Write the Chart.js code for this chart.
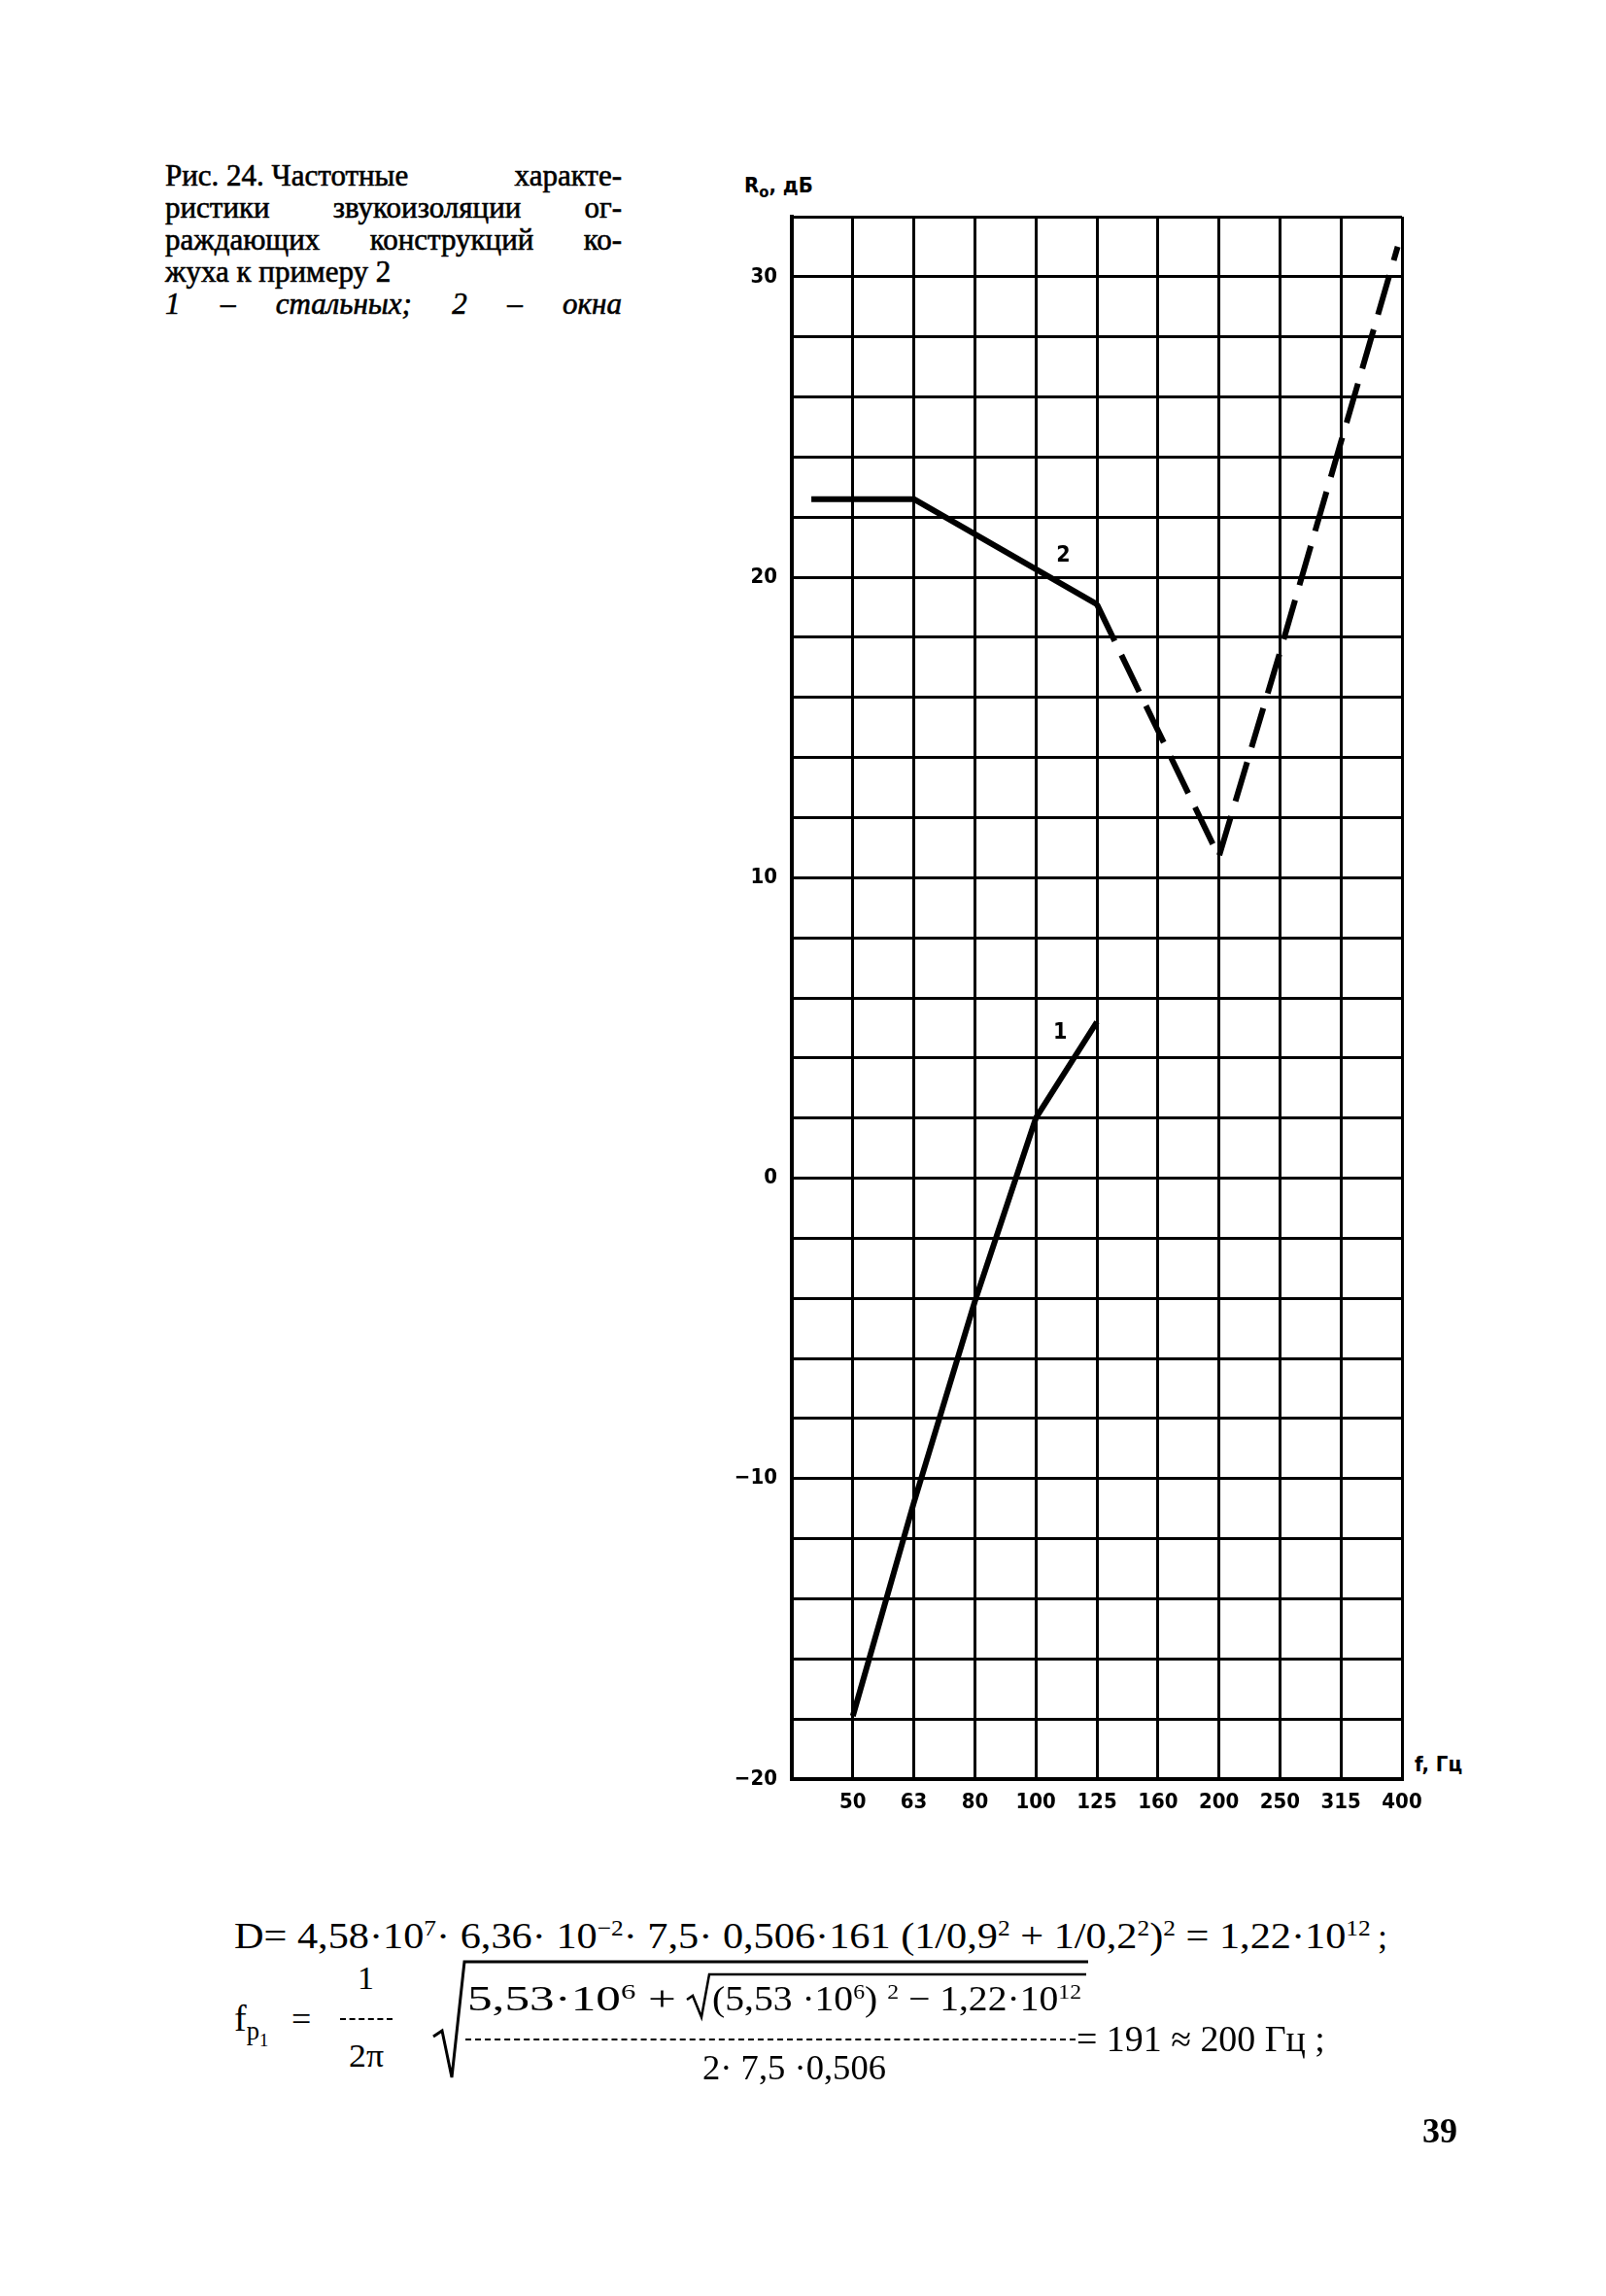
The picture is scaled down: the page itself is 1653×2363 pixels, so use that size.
<!DOCTYPE html>
<html lang="ru">
<head>
<meta charset="utf-8">
<title>Рис. 24</title>
<script src="https://cdn.jsdelivr.net/npm/chart.js@4.4.1/dist/chart.umd.min.js"></script>
<style>
  html, body { margin: 0; padding: 0; background: #fff; }
  body {
    width: 1653px; height: 2363px; position: relative; overflow: hidden;
    font-family: "Liberation Serif", "Times New Roman", serif; color: #000;
  }
  .abs { position: absolute; white-space: nowrap; line-height: 1; }
  .fit { transform-origin: 0 50%; }
  sup, sub { font-size: 60%; line-height: 0; }
  sup { vertical-align: 0.55em; }
  sub { vertical-align: -0.3em; }
  #caption {
    position: absolute; left: 170px; top: 164px; width: 470px;
    font-size: 31px; line-height: 33px; -webkit-text-stroke: 0.6px #000;
  }
  #caption div { text-align: justify; text-align-last: justify; white-space: nowrap; }
  #caption .plain { text-align-last: left; }
  #caption .it { font-style: italic; }
  #caption .keep { display: inline-block; }
  #chartBox { position: absolute; left: 700px; top: 180px; width: 820px; height: 1720px; }
  .axisTitle {
    position: absolute; white-space: nowrap; line-height: 1;
    font-family: "Liberation Sans Narrow", "DejaVu Sans Condensed", sans-serif;
    font-weight: bold; font-size: 22px;
  }
  .axisTitle sub { font-size: 75%; }
  .dashRule { position: absolute; border-top: 2px dashed #000; height: 0; }
  .fp sub { font-size: 70%; vertical-align: -0.35em; }
</style>
</head>
<body>

<div id="caption">
  <div><span class="keep">Рис. 24. Частотные</span> характе-</div>
  <div>ристики звукоизоляции ог-</div>
  <div>раждающих конструкций ко-</div>
  <div class="plain">жуха к примеру 2</div>
  <div class="it">1 – стальных; 2 – окна</div>
</div>

<div class="axisTitle" style="left:766px; top:180px;">R<sub>o</sub>, дБ</div>
<div class="axisTitle" style="left:1456px; top:1805px;">f, Гц</div>

<div id="chartBox"><canvas id="soundChart"></canvas></div>

<!-- формулы под графиком -->
<span class="abs fit" data-w="1170" style="left:241px; top:1973px; font-size:38px;">D= 4,58·10<sup>7</sup>· 6,36· 10<sup>−2</sup>· 7,5· 0,506·161 (1/0,9<sup>2</sup> + 1/0,2<sup>2</sup>)<sup>2</sup> = 1,22·10<sup>12</sup></span>
<span class="abs" style="left:1418px; top:1975px; font-size:36px;">;</span>

<span class="abs fp" style="left:241px; top:2058px; font-size:38px;">f<sub>p<sub>1</sub></sub></span>
<span class="abs" style="left:300px; top:2060px; font-size:36px;">=</span>
<span class="abs" style="left:368px; top:2019px; font-size:34px;">1</span>
<div class="dashRule" style="left:350px; top:2077px; width:54px;"></div>
<span class="abs fit" data-w="36" style="left:359px; top:2099px; font-size:34px;">2π</span>

<svg style="position:absolute; left:0; top:0;" width="1653" height="2363">
  <polyline points="446,2096 455,2090 465,2138 478,2019 1120,2019" fill="none" stroke="#000" stroke-width="3"/>
  <polyline points="707,2058 713,2054 722,2076 730,2032 1118,2032" fill="none" stroke="#000" stroke-width="2.5"/>
</svg>

<span class="abs fit" data-w="215" style="left:481px; top:2039px; font-size:36px;">5,53·10<sup>6</sup> +</span>
<span class="abs fit" data-w="380" style="left:733px; top:2039px; font-size:36px;">(5,53 ·10<sup>6</sup>) <sup>2</sup> − 1,22·10<sup>12</sup></span>
<div class="dashRule" style="left:479px; top:2098px; width:628px;"></div>
<span class="abs fit" data-w="189" style="left:723px; top:2110px; font-size:36px;">2· 7,5 ·0,506</span>
<span class="abs fit" data-w="256" style="left:1108px; top:2080px; font-size:37px;">= 191 ≈ 200 Гц ;</span>

<span class="abs" style="left:1464px; top:2175px; font-size:36px; font-weight:bold;">39</span>

<script>
// Частоты (позиция 0 — без подписи)
const freqLabels = ["", "50", "63", "80", "100", "125", "160", "200", "250", "315", "400"];

// Кривая 1 — стальные конструкции
const steelX = [1, 2, 3, 4, 5];
const steelY = [-17.9, -10.8, -4.1, 2.0, 5.2];

// Кривая 2 — окно (сплошной участок)
const windowSolidX = [0.32, 2, 5];
const windowSolidY = [22.6, 22.6, 19.1];

// Кривая 2 — окно (пунктир)
const windowDashX = [5, 6, 7, 8, 9, 9.93];
const windowDashY = [19.1, 14.9, 10.7, 17.5, 24.5, 31];

// Номера кривых
const curveNames = ["1", "2"];
const curveNameX = [4.4, 4.45];
const curveNameY = [4.85, 20.7];

const axisFont = { family: "'Liberation Sans Narrow', 'DejaVu Sans Condensed', sans-serif", size: 22, weight: "bold" };

function toPoints(xs, ys) {
  return xs.map((x, i) => ({ x: x, y: ys[i] }));
}

const curveNumbers = {
  id: "curveNumbers",
  afterDatasetsDraw(chart) {
    const ctx = chart.ctx;
    const xs = chart.scales.x;
    const ys = chart.scales.y;
    ctx.save();
    ctx.fillStyle = "#000";
    ctx.font = "bold 23px 'Liberation Sans Narrow', 'DejaVu Sans Condensed', sans-serif";
    ctx.textAlign = "center";
    ctx.textBaseline = "middle";
    curveNames.forEach((name, i) => {
      ctx.fillText(name, xs.getPixelForValue(curveNameX[i]), ys.getPixelForValue(curveNameY[i]));
    });
    ctx.restore();
  },
};

const lineStyle = {
  borderColor: "#000",
  borderWidth: 6,
  pointRadius: 0,
  tension: 0,
  fill: false,
  borderJoinStyle: "round",
};

new Chart(document.getElementById("soundChart").getContext("2d"), {
  type: "line",
  data: {
    datasets: [
      Object.assign({ label: "1", data: toPoints(steelX, steelY) }, lineStyle),
      Object.assign({ label: "2", data: toPoints(windowSolidX, windowSolidY) }, lineStyle),
      Object.assign({ label: "2 (пунктир)", data: toPoints(windowDashX, windowDashY), borderDash: [42, 16] }, lineStyle),
    ],
  },
  options: {
    responsive: true,
    maintainAspectRatio: false,
    animation: false,
    layout: { padding: { left: 0, top: 43, right: 77, bottom: 0 } },
    plugins: {
      legend: { display: false },
      tooltip: { enabled: false },
    },
    scales: {
      x: {
        type: "linear",
        min: 0,
        max: 10,
        afterFit: (scale) => { scale.height = 69; },
        ticks: {
          stepSize: 1,
          autoSkip: false,
          maxRotation: 0,
          padding: 11,
          color: "#000",
          font: axisFont,
          callback: (v) => freqLabels[v] ?? "",
        },
        grid: { color: "#000", lineWidth: 3, drawTicks: false },
        border: { color: "#000", width: 4 },
      },
      y: {
        type: "linear",
        min: -20,
        max: 32,
        afterFit: (scale) => { scale.width = 115; },
        ticks: {
          stepSize: 2,
          autoSkip: false,
          padding: 15,
          color: "#000",
          font: axisFont,
          callback: (v) => (v % 10 === 0 ? (v < 0 ? "−" + Math.abs(v) : String(v)) : ""),
        },
        grid: { color: "#000", lineWidth: 3, drawTicks: false },
        border: { color: "#000", width: 4 },
      },
    },
  },
  plugins: [curveNumbers],
});

// растянуть строки формул до ширины оригинала
document.querySelectorAll(".fit").forEach((el) => {
  const w = el.getBoundingClientRect().width;
  const target = parseFloat(el.dataset.w);
  if (w > 0) el.style.transform = "scaleX(" + (target / w).toFixed(3) + ")";
});
</script>
</body>
</html>
